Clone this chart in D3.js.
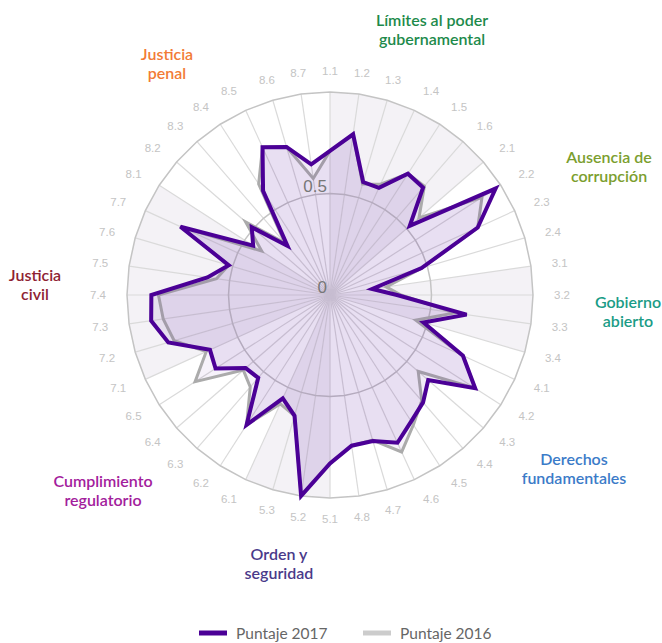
<!DOCTYPE html>
<html>
<head>
<meta charset="utf-8">
<script src="https://cdn.jsdelivr.net/npm/d3@7"></script>
<style>
  body { margin: 0; background: #fff; }
  svg { display: block; }
</style>
</head>
<body>
<div id="chart"></div>
<script>
// sub-factor labels, clockwise from the top
const subFactors = [
  "1.1", "1.2", "1.3", "1.4", "1.5", "1.6",
  "2.1", "2.2", "2.3", "2.4",
  "3.1", "3.2", "3.3", "3.4",
  "4.1", "4.2", "4.3", "4.4", "4.5", "4.6", "4.7", "4.8",
  "5.1", "5.2", "5.3",
  "6.1", "6.2", "6.3", "6.4", "6.5",
  "7.1", "7.2", "7.3", "7.4", "7.5", "7.6", "7.7",
  "8.1", "8.2", "8.3", "8.4", "8.5", "8.6", "8.7"
];

const score2017 = [
  0.71, 0.80, 0.58, 0.58, 0.71, 0.70,
  0.52, 0.97, 0.80, 0.47,
  0.21, 0.33, 0.68, 0.48,
  0.72, 0.85, 0.64, 0.70, 0.74, 0.80, 0.75, 0.75,
  0.83, 1.00, 0.62,
  0.56, 0.76, 0.54, 0.55, 0.67,
  0.65, 0.83, 0.89, 0.88, 0.61, 0.52, 0.81,
  0.45, 0.51, 0.32, 0.61, 0.80, 0.76, 0.65
];

const score2016 = [
  0.71, 0.80, 0.57, 0.60, 0.71, 0.71,
  0.58, 0.89, 0.80, 0.47,
  0.28, 0.35, 0.62, 0.44,
  0.72, 0.85, 0.575, 0.69, 0.76, 0.85, 0.745, 0.75,
  0.83, 1.00, 0.62,
  0.59, 0.76, 0.60, 0.565, 0.79,
  0.67, 0.80, 0.83, 0.845, 0.565, 0.52, 0.81,
  0.40, 0.55, 0.34, 0.65, 0.80, 0.76, 0.58
];

const ticks = [0, 0.5];

// shaded bands, from one spoke to another
const shadeSpans = [["1.1", "2.1"], ["3.1", "3.4"], ["5.1", "6.1"], ["7.1", "8.1"]];

// pillars: names, colours and where their names sit
const pillarNames = [
  ["Límites al poder", "gubernamental"],
  ["Ausencia de", "corrupción"],
  ["Gobierno", "abierto"],
  ["Derechos", "fundamentales"],
  ["Orden y", "seguridad"],
  ["Cumplimiento", "regulatorio"],
  ["Justicia", "civil"],
  ["Justicia", "penal"]
];
const pillarColors = ["#1d8a4b", "#7b9e2e", "#1a9c86", "#3b7bc8", "#4a3a8a", "#a3209c", "#8e2232", "#f27b35"];
const pillarLabelPos = [[432, 20], [609, 157], [628, 302], [574, 459], [279, 554], [103, 481], [35, 275], [167, 54]];

const width = 662, height = 643;
const cx = 330, cy = 295, R = 203;
const n = subFactors.length;

const svg = d3.select("#chart").append("svg")
  .attr("width", width)
  .attr("height", height);

const g = svg.append("g").attr("transform", `translate(${cx},${cy})`);

const angle = d3.scaleLinear().domain([0, n]).range([0, 2 * Math.PI]);
const r = d3.scaleLinear().domain([0, 1]).range([0, R]);

const pt = (i, v) => [Math.sin(angle(i)) * r(v), -Math.cos(angle(i)) * r(v)];

// shaded bands
const shadeLine = d3.line();
shadeSpans.forEach(([a, b]) => {
  const i0 = subFactors.indexOf(a), i1 = subFactors.indexOf(b);
  const pts = [[0, 0]].concat(d3.range(i0, i1 + 1).map(i => pt(i, 1)));
  g.append("path")
    .attr("d", shadeLine(pts) + "Z")
    .attr("fill", "#f4f2f6");
});

// spokes
g.selectAll(".spoke")
  .data(subFactors)
  .enter()
  .append("line")
  .attr("x1", 0).attr("y1", 0)
  .attr("x2", (d, i) => pt(i, 1)[0])
  .attr("y2", (d, i) => pt(i, 1)[1])
  .attr("stroke", "#dadada")
  .attr("stroke-width", 1.2);

// rings
const radar = d3.lineRadial()
  .angle((d, i) => angle(i))
  .radius(d => r(d))
  .curve(d3.curveLinearClosed);

[0.5, 1].forEach(v => {
  g.append("path")
    .attr("d", radar(subFactors.map(() => v)))
    .attr("fill", "none")
    .attr("stroke", "#c4c4c4")
    .attr("stroke-width", 1.5);
});

// series
g.append("path")
  .attr("d", radar(score2016))
  .attr("fill", "rgba(75,0,150,0.05)")
  .attr("stroke", "#ababab")
  .attr("stroke-width", 3)
  .attr("stroke-linejoin", "miter");

g.append("path")
  .attr("d", radar(score2017))
  .attr("fill", "rgba(75,0,150,0.08)")
  .attr("stroke", "#4b0096")
  .attr("stroke-width", 4)
  .attr("stroke-linejoin", "miter");

// tick values
g.selectAll(".tick")
  .data(ticks)
  .enter()
  .append("text")
  .attr("x", -3)
  .attr("y", d => -r(d) - 2)
  .attr("text-anchor", "end")
  .attr("font-family", "Arial, 'Liberation Sans', sans-serif")
  .attr("font-size", 17)
  .attr("fill", "#777")
  .text(d => d);

// sub-factor labels
g.selectAll(".sub")
  .data(subFactors)
  .enter()
  .append("text")
  .attr("x", (d, i) => Math.sin(angle(i)) * (R + 21))
  .attr("y", (d, i) => -Math.cos(angle(i)) * (R + 21))
  .attr("dy", "0.35em")
  .attr("text-anchor", (d, i) => {
    const s = Math.sin(angle(i));
    if (Math.abs(s) < 0.3) return "middle";
    return s > 0 ? "start" : "end";
  })
  .attr("font-family", "Arial, 'Liberation Sans', sans-serif")
  .attr("font-size", 11.5)
  .attr("fill", "#c4c4c4")
  .text(d => d);

// pillar names
pillarNames.forEach((lines, p) => {
  const t = svg.append("text")
    .attr("text-anchor", "middle")
    .attr("font-family", "Lato, sans-serif")
    .attr("font-size", 16)
    .attr("font-weight", 600)
    .attr("fill", pillarColors[p]);
  lines.forEach((ln, k) => {
    t.append("tspan")
      .attr("x", pillarLabelPos[p][0])
      .attr("y", pillarLabelPos[p][1] + k * 19.5 + 5.5)
      .text(ln);
  });
});

// legend
const legend = [
  { name: "Puntaje 2017", color: "#4b0096", x: 199 },
  { name: "Puntaje 2016", color: "#cccccc", x: 363 }
];
const lg = svg.append("g").attr("transform", "translate(0,633)");
legend.forEach(d => {
  lg.append("line")
    .attr("x1", d.x).attr("x2", d.x + 28)
    .attr("y1", 0).attr("y2", 0)
    .attr("stroke", d.color)
    .attr("stroke-width", 5);
  lg.append("text")
    .attr("x", d.x + 37)
    .attr("y", 5.5)
    .attr("font-family", "Lato, sans-serif")
    .attr("font-size", 15.5)
    .attr("fill", "#666")
    .text(d.name);
});
</script>
</body>
</html>
